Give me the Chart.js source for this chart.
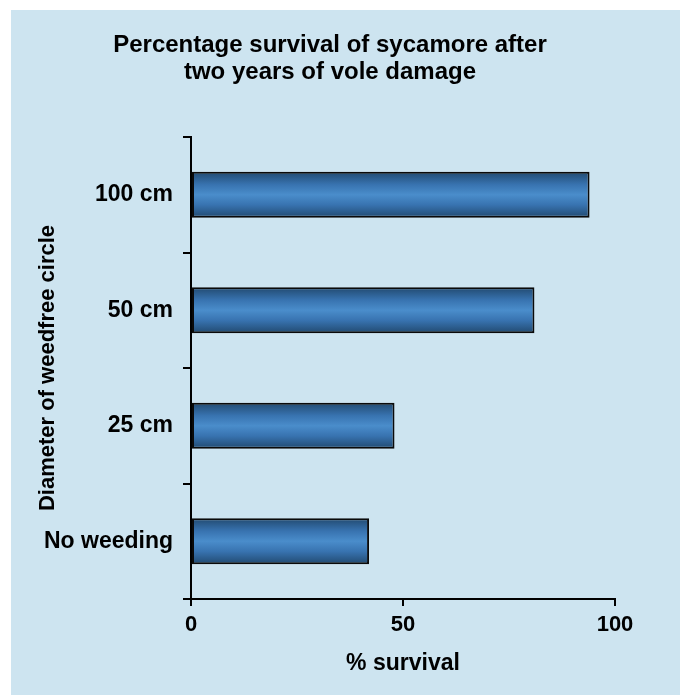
<!DOCTYPE html>
<html>
<head>
<meta charset="utf-8">
<script src="https://cdn.jsdelivr.net/npm/chart.js@4"></script>
<style>
  html, body { margin: 0; padding: 0; background: #ffffff; }
  #wrap { width: 680px; height: 695px; position: relative; }
</style>
</head>
<body>
<div id="wrap"><canvas id="chart" width="680" height="695"></canvas></div>
<script>
// Survival data: one bar per weed-free circle diameter
const categories = ['100 cm', '50 cm', '25 cm', 'No weeding'];
const survival = [94, 81, 48, 42];
const xTicks = [0, 50, 100];
const titleLines = ['Percentage survival of sycamore after', 'two years of vole damage'];
const xTitle = '% survival';
const yTitle = 'Diameter of weedfree circle';

const FONT = '"Liberation Sans", Arial, Helvetica, sans-serif';
const PANEL = '#cde4f0';

// Light blue panel behind everything
const panelPlugin = {
  id: 'panel',
  beforeDraw(chart) {
    const ctx = chart.ctx;
    ctx.save();
    ctx.fillStyle = PANEL;
    ctx.fillRect(11, 10, chart.width - 11, chart.height - 10);
    ctx.restore();
  }
};

// Two-line heading
const headingPlugin = {
  id: 'heading',
  afterDraw(chart) {
    const ctx = chart.ctx;
    ctx.save();
    ctx.fillStyle = '#000000';
    ctx.font = 'bold 24px ' + FONT;
    ctx.textAlign = 'center';
    ctx.textBaseline = 'middle';
    titleLines.forEach((line, i) => ctx.fillText(line, 330, 45 + i * 27));
    ctx.restore();
  }
};

// Vertical shading of each bar: dark edges, lighter centre
function barGradient(context) {
  const chart = context.chart;
  const ys = chart.scales && chart.scales.y;
  const area = chart.chartArea;
  if (!ys || !area || context.dataIndex === undefined) return '#3f7fbf';
  const yc = ys.getPixelForValue(context.dataIndex);
  const half = (area.bottom - area.top) / categories.length * 0.4 / 2;
  if (!isFinite(yc) || !isFinite(half)) return '#3f7fbf';
  const g = chart.ctx.createLinearGradient(0, yc - half, 0, yc + half);
  g.addColorStop(0, '#21496f');
  g.addColorStop(0.28, '#3873b0');
  g.addColorStop(0.5, '#4a8dcb');
  g.addColorStop(0.72, '#3873b0');
  g.addColorStop(1, '#21496f');
  return g;
}

new Chart(document.getElementById('chart'), {
  type: 'bar',
  data: {
    labels: categories,
    datasets: [{
      data: survival,
      backgroundColor: barGradient,
      borderColor: '#0a0a0a',
      borderWidth: 2,
      borderSkipped: false,
      barPercentage: 0.4,
      categoryPercentage: 1.0
    }]
  },
  options: {
    indexAxis: 'y',
    responsive: false,
    animation: false,
    layout: { padding: { top: 137, left: 0, right: 65, bottom: 0 } },
    plugins: {
      legend: { display: false },
      title: { display: false },
      tooltip: { enabled: false }
    },
    scales: {
      x: {
        min: 0,
        max: 100,
        afterBuildTicks(scale) { scale.ticks = xTicks.map(v => ({ value: v })); },
        afterFit(scale) { scale.height = 96; },
        ticks: {
          color: '#000000',
          font: { family: FONT, size: 22, weight: 'bold' },
          padding: 6
        },
        grid: {
          drawOnChartArea: false,
          drawTicks: true,
          tickLength: 7,
          color: '#000000',
          lineWidth: 2
        },
        border: { display: true, color: '#000000', width: 2 },
        title: {
          display: true,
          text: xTitle,
          color: '#000000',
          font: { family: FONT, size: 23, weight: 'bold' },
          padding: { top: 0, bottom: 18 }
        }
      },
      y: {
        afterFit(scale) { scale.width = 191; },
        ticks: {
          color: '#000000',
          font: { family: FONT, size: 23, weight: 'bold' },
          padding: 10
        },
        grid: {
          offset: true,
          drawOnChartArea: false,
          drawTicks: true,
          tickLength: 8,
          color: '#000000',
          lineWidth: 2
        },
        border: { display: true, color: '#000000', width: 2 },
        title: {
          display: true,
          text: yTitle,
          color: '#000000',
          font: { family: FONT, size: 22, weight: 'bold' },
          padding: { top: 35, bottom: 0 }
        }
      }
    }
  },
  plugins: [panelPlugin, headingPlugin]
});
</script>
</body>
</html>
